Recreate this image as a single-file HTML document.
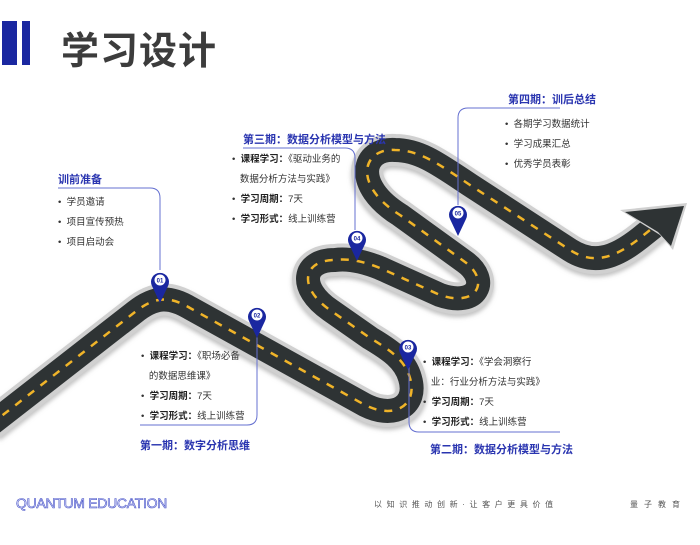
<!DOCTYPE html>
<html><head><meta charset="utf-8"><style>
body{margin:0;width:700px;height:545px;background:#fff;position:relative;overflow:hidden;font-family:"Liberation Sans","Noto Sans CJK SC",sans-serif}
.a{position:absolute;white-space:nowrap}
.h{font-size:11px;font-weight:bold;color:#2a35b0}
.t{font-size:9.5px;color:#333;line-height:20px}
.t b{color:#222}
</style></head><body>
<div class="a" style="left:2px;top:21px;width:15px;height:44px;background:#1a27a0"></div>
<div class="a" style="left:22px;top:21px;width:8px;height:44px;background:#1a27a0"></div>
<div class="a" style="left:61px;top:20px;font-size:38px;font-weight:bold;color:#3c3c3c;letter-spacing:1px">学习设计</div>

<svg class="a" style="left:0;top:0" width="700" height="545">
<defs><filter id="s"><feDropShadow dx="0" dy="3" stdDeviation="2" flood-color="#999" flood-opacity=".6"/></filter>
<path id="r" d="M -10 425 L 135 312 C 155 296 170 296 190 308 L 365 405 C 395 420 418 405 410 378 C 405 360 390 350 370 338 L 330 310 C 298 288 302 260 335 260 C 350 258 365 262 380 268 L 440 295 C 478 308 490 280 465 262 L 400 215 C 352 185 362 148 395 150 C 420 150 440 165 470 185 L 570 250 C 592 264 612 260 640 238 L 660 222"/>
</defs>
<g fill="none" stroke-linecap="butt" stroke-linejoin="round">
<use href="#r" stroke="#d0d0d0" stroke-width="32" filter="url(#s)"/>
<use href="#r" stroke="#2e3334" stroke-width="24"/>
<use href="#r" stroke="#f0b429" stroke-width="2.5" stroke-dasharray="8 8"/>
</g>
<polygon points="620,210 687,203 673,250 660,235" fill="#d0d0d0"/>
<polygon points="625,212 684,206 671,246 658,232" fill="#2e3334"/>
<g fill="none" stroke="#6570d0" stroke-width="1">
<path d="M58 188 L150 188 Q160 188 160 198 L160 270"/>
<path d="M243 148 L345 148 Q355 148 355 158 L355 230"/>
<path d="M560 108 L468 108 Q458 108 458 118 L458 205"/>
<path d="M257 320 L257 415 Q257 425 247 425 L140 425"/>
<path d="M409 352 L409 422 Q409 432 419 432 L560 432"/>
</g>
<g fill="#1a27a0">
<g transform="translate(160,280)"><path d="M0 23 L-8 6 A9 9 0 1 1 8 6 Z"/><circle r="5.5" fill="#fff"/><text y="2.5" font-size="6" text-anchor="middle" fill="#1a27a0" font-weight="bold">01</text></g>
<g transform="translate(257,315)"><path d="M0 23 L-8 6 A9 9 0 1 1 8 6 Z"/><circle r="5.5" fill="#fff"/><text y="2.5" font-size="6" text-anchor="middle" fill="#1a27a0" font-weight="bold">02</text></g>
<g transform="translate(408,347)"><path d="M0 23 L-8 6 A9 9 0 1 1 8 6 Z"/><circle r="5.5" fill="#fff"/><text y="2.5" font-size="6" text-anchor="middle" fill="#1a27a0" font-weight="bold">03</text></g>
<g transform="translate(357,238)"><path d="M0 23 L-8 6 A9 9 0 1 1 8 6 Z"/><circle r="5.5" fill="#fff"/><text y="2.5" font-size="6" text-anchor="middle" fill="#1a27a0" font-weight="bold">04</text></g>
<g transform="translate(458,213)"><path d="M0 23 L-8 6 A9 9 0 1 1 8 6 Z"/><circle r="5.5" fill="#fff"/><text y="2.5" font-size="6" text-anchor="middle" fill="#1a27a0" font-weight="bold">05</text></g>
</g>
</svg>

<div class="a h" style="left:58px;top:171px">训前准备</div>
<div class="a t" style="left:58px;top:193px">•&nbsp; 学员邀请<br>•&nbsp; 项目宣传预热<br>•&nbsp; 项目启动会</div>

<div class="a h" style="left:243px;top:131px">第三期：数据分析模型与方法</div>
<div class="a t" style="left:232px;top:150px">•&nbsp; <b>课程学习：</b>《驱动业务的<br>&nbsp;&nbsp;&nbsp;数据分析方法与实践》<br>•&nbsp; <b>学习周期：</b>7天<br>•&nbsp; <b>学习形式：</b>线上训练营</div>

<div class="a h" style="left:508px;top:91px">第四期：训后总结</div>
<div class="a t" style="left:505px;top:115px">•&nbsp; 各期学习数据统计<br>•&nbsp; 学习成果汇总<br>•&nbsp; 优秀学员表彰</div>

<div class="a t" style="left:141px;top:347px">•&nbsp; <b>课程学习：</b>《职场必备<br>&nbsp;&nbsp;&nbsp;的数据思维课》<br>•&nbsp; <b>学习周期：</b>7天<br>•&nbsp; <b>学习形式：</b>线上训练营</div>
<div class="a h" style="left:140px;top:437px">第一期：数字分析思维</div>

<div class="a t" style="left:423px;top:353px">•&nbsp; <b>课程学习：</b>《学会洞察行<br>&nbsp;&nbsp;&nbsp;业：行业分析方法与实践》<br>•&nbsp; <b>学习周期：</b>7天<br>•&nbsp; <b>学习形式：</b>线上训练营</div>
<div class="a h" style="left:430px;top:441px">第二期：数据分析模型与方法</div>

<div class="a" style="left:16px;top:495px;font-size:14px;color:#dfe2fa;-webkit-text-stroke:0.6px #4a55c8;letter-spacing:-0.3px">QUANTUM EDUCATION</div>
<div class="a" style="left:374px;top:499px;font-size:8px;color:#555;letter-spacing:4.6px">以知识推动创新·让客户更具价值</div>
<div class="a" style="left:630px;top:499px;font-size:8px;color:#555;letter-spacing:6px">量子教育</div>
</body></html>
